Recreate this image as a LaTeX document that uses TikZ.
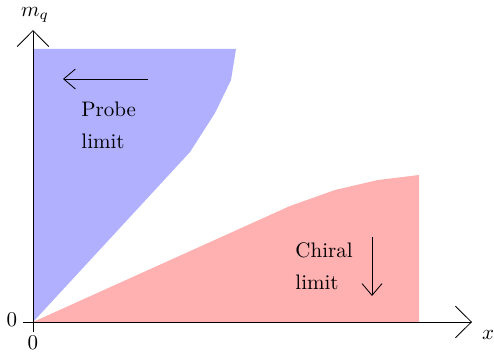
\documentclass[tikz,border=0pt]{standalone}
\usepackage{tikz}
\usepackage{xcolor}
\usetikzlibrary{arrows.meta}
\definecolor{probeBlue}{RGB}{176,176,255}
\definecolor{chiralRed}{RGB}{255,176,176}
\tikzset{
  axis/.style={-{Straight Barb[length=7.6pt,width=15pt]}, thin},
  limitarrow/.style={-{Straight Barb[length=5.6pt,width=9.5pt]}, thin},
  region/.style={draw=none},
  note/.style={align=left, anchor=base west, inner sep=0pt, font=\fontsize{10}{15}\selectfont},
  tick/.style={font=\normalsize, inner sep=0pt}
}
\begin{document}
\begin{tikzpicture}[x=0.476pt,y=0.476pt]
  \useasboundingbox (-33,-31) rectangle (461,322);

  % regions
  \fill[region, probeBlue] (0,0) -- (0,273) -- (203,273) -- (198,242) -- (182,209) -- (157,170) -- cycle;
  \fill[region, chiralRed] (0,0) -- (257,116) -- (302,132) -- (345,142) -- (386,147) -- (386,0) -- cycle;

  % axes
  \coordinate (xstart) at (-10,0);
  \coordinate (xend) at (439,0);
  \coordinate (ystart) at (0,-10);
  \coordinate (yend) at (0,292);
  \draw[axis] (xstart) -- (xend);
  \draw[axis] (ystart) -- (yend);
  \node[tick] (xlab) at (455,-13) {$x$};
  \node[tick] (ylab) at (2,307) {$m_q$};
  \node[tick] (zeroleft) at (-21,2) {0};
  \node[tick] (zerobottom) at (0,-21) {0};

  % limits
  \coordinate (probefrom) at (115,243);
  \coordinate (probeto) at (30,243);
  \draw[limitarrow] (probefrom) -- (probeto);
  \node[note] (probe) at (48,174) {Probe\\limit};

  \coordinate (chiralfrom) at (339,85);
  \coordinate (chiralto) at (339,26);
  \draw[limitarrow] (chiralfrom) -- (chiralto);
  \node[note] (chiral) at (262,33) {Chiral\\limit};
\end{tikzpicture}
\end{document}
